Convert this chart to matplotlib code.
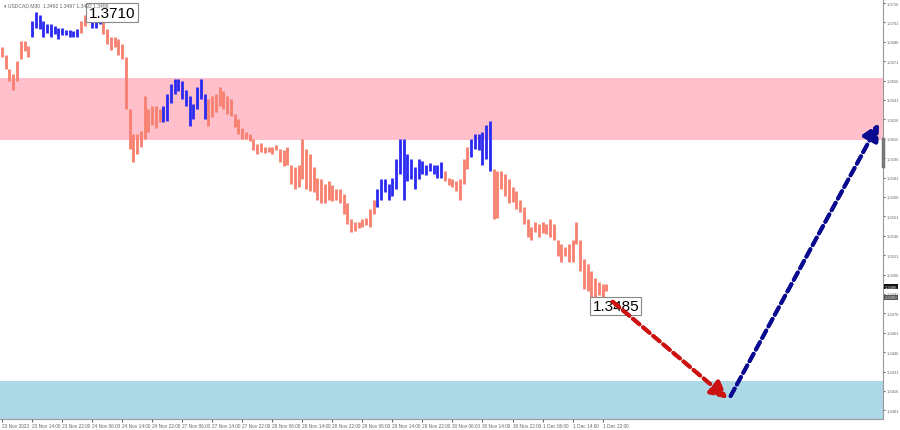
import numpy as np
import matplotlib
matplotlib.use("Agg")
import matplotlib.pyplot as plt
import matplotlib.patheffects as pe

plt.rcParams['font.family'] = ['Liberation Sans', 'DejaVu Sans']

# bar highs / lows (USDCAD)
highs = [1.3682, 1.3676, 1.3665, 1.3661, 1.3671, 1.3687, 1.3687, 1.3683, 1.3702, 1.3709,
         1.3707, 1.3702, 1.3700, 1.3700, 1.3698, 1.3697, 1.3697, 1.3695, 1.3695, 1.3694,
         1.3696, 1.3702, 1.3707, 1.3710, 1.3707, 1.3705, 1.3707, 1.3704, 1.3696, 1.3690,
         1.3690, 1.3688, 1.3684, 1.3674, 1.3634, 1.3615, 1.3615, 1.3617, 1.3644, 1.3634,
         1.3636, 1.3636, 1.3634, 1.3636, 1.3646, 1.3653, 1.3657, 1.3657, 1.3656, 1.3649,
         1.3644, 1.3638, 1.3651, 1.3657, 1.3646, 1.3642, 1.3644, 1.3646, 1.3651, 1.3648,
         1.3644, 1.3642, 1.3630, 1.3626, 1.3619, 1.3616, 1.3615, 1.3611, 1.3607, 1.3608,
         1.3605, 1.3605, 1.3605, 1.3606, 1.3603, 1.3602, 1.3605, 1.3591, 1.3589, 1.3591,
         1.3611, 1.3603, 1.3599, 1.3589, 1.3581, 1.3580, 1.3576, 1.3578, 1.3575, 1.3572,
         1.3572, 1.3568, 1.3561, 1.3549, 1.3547, 1.3547, 1.3549, 1.3550, 1.3557, 1.3564,
         1.3572, 1.3580, 1.3580, 1.3576, 1.3581, 1.3595, 1.3611, 1.3611, 1.3599, 1.3595,
         1.3589, 1.3595, 1.3594, 1.3591, 1.3592, 1.3591, 1.3591, 1.3593, 1.3586, 1.3581,
         1.3580, 1.3578, 1.3580, 1.3595, 1.3605, 1.3611, 1.3615, 1.3615, 1.3616, 1.3622,
         1.3625, 1.3588, 1.3586, 1.3586, 1.3584, 1.3580, 1.3574, 1.3571, 1.3564, 1.3558,
         1.3549, 1.3543, 1.3547, 1.3545, 1.3547, 1.3545, 1.3549, 1.3545, 1.3533, 1.3530,
         1.3527, 1.3530, 1.3533, 1.3547, 1.3533, 1.3518, 1.3514, 1.3509, 1.3503, 1.3500,
         1.3499, 1.3499]
lows = [1.3674, 1.3665, 1.3656, 1.3649, 1.3656, 1.3673, 1.3679, 1.3674, 1.3690, 1.3697,
        1.3696, 1.3690, 1.3693, 1.3690, 1.3692, 1.3688, 1.3691, 1.3691, 1.3690, 1.3690,
        1.3690, 1.3693, 1.3698, 1.3702, 1.3697, 1.3697, 1.3700, 1.3692, 1.3684, 1.3680,
        1.3682, 1.3676, 1.3673, 1.3634, 1.3603, 1.3593, 1.3599, 1.3605, 1.3611, 1.3616,
        1.3622, 1.3619, 1.3624, 1.3624, 1.3625, 1.3639, 1.3646, 1.3648, 1.3642, 1.3636,
        1.3621, 1.3626, 1.3634, 1.3642, 1.3626, 1.3621, 1.3628, 1.3632, 1.3636, 1.3634,
        1.3630, 1.3629, 1.3620, 1.3615, 1.3611, 1.3611, 1.3609, 1.3602, 1.3599, 1.3601,
        1.3600, 1.3601, 1.3599, 1.3602, 1.3593, 1.3590, 1.3591, 1.3576, 1.3572, 1.3574,
        1.3580, 1.3572, 1.3571, 1.3570, 1.3564, 1.3561, 1.3561, 1.3564, 1.3563, 1.3564,
        1.3561, 1.3553, 1.3545, 1.3539, 1.3540, 1.3542, 1.3543, 1.3544, 1.3543, 1.3553,
        1.3558, 1.3564, 1.3570, 1.3564, 1.3567, 1.3572, 1.3584, 1.3564, 1.3578, 1.3580,
        1.3572, 1.3580, 1.3584, 1.3583, 1.3586, 1.3584, 1.3581, 1.3581, 1.3578, 1.3575,
        1.3574, 1.3571, 1.3564, 1.3576, 1.3588, 1.3597, 1.3603, 1.3602, 1.3591, 1.3595,
        1.3586, 1.3549, 1.3550, 1.3572, 1.3567, 1.3561, 1.3562, 1.3557, 1.3554, 1.3545,
        1.3535, 1.3533, 1.3539, 1.3535, 1.3538, 1.3537, 1.3535, 1.3533, 1.3520, 1.3516,
        1.3520, 1.3516, 1.3516, 1.3530, 1.3509, 1.3495, 1.3493, 1.3485, 1.3489, 1.3490,
        1.3489, 1.3493]

# zigzag legs drawn in blue (bar index ranges)
blue_legs = [(8, 20), (23, 26), (43, 54), (100, 117), (125, 130)]

time_labels = ['23 Nov 2023', '23 Nov 14:00', '23 Nov 22:00', '24 Nov 06:00', '24 Nov 14:00',
               '24 Nov 22:00', '27 Nov 06:00', '27 Nov 14:00', '27 Nov 22:00', '28 Nov 06:00',
               '28 Nov 14:00', '28 Nov 22:00', '29 Nov 06:00', '29 Nov 14:00', '29 Nov 22:00',
               '30 Nov 06:00', '30 Nov 14:00', '30 Nov 22:00', '1 Dec 06:00', '1 Dec 14:00',
               '1 Dec 22:00']

resist_zone = (1.3610, 1.3658)
support_zone = (1.3394, 1.3424)
price_ticks = np.round(np.arange(1.3401, 1.3717, 0.0015), 4)

last_high, last_low = 1.3710, 1.3485
cur_price, bid_price = 1.3496, 1.3490
# forecast path: from last low down to target, then up
fc_x = [162.7, 193.3, 194.1, 233.6]
fc_y = [1.3485, 1.3410, 1.3412, 1.3623]

salmon = '#f8806e'
blue = '#2a2af2'

n = len(highs)
idx = np.arange(n)
colors = [salmon] * n
for a, b in blue_legs:
    for i in range(a, b + 1):
        colors[i] = blue

fig = plt.figure(figsize=(9, 4.31), dpi=100)
ax = fig.add_axes([0, 11 / 431, 883 / 900, 420 / 431])

ax.axhspan(*resist_zone, color='#ffc0cb', lw=0, zorder=0)
ax.axhspan(*support_zone, color='#add8e6', lw=0, zorder=0)

ax.vlines(idx, lows, highs, colors=colors, lw=2.0, zorder=2)

ax.set_xlim(-0.53, 234.7)
ax.set_ylim(1.33943, 1.37191)

ax.yaxis.tick_right()
ax.set_yticks(price_ticks)
ax.set_yticklabels(['%.4f' % p for p in price_ticks])
ax.set_xticks(np.arange(len(time_labels)) * 8)
ax.set_xticklabels(time_labels, ha='left')
ax.tick_params(axis='y', length=1.5, pad=1.5, labelsize=3.0, colors='#666666')
ax.tick_params(axis='x', length=2, pad=1, labelsize=3.4, colors='#666666')
for s in ['top', 'left']:
    ax.spines[s].set_visible(False)
for s in ['right', 'bottom']:
    ax.spines[s].set_color('#999999')
    ax.spines[s].set_linewidth(0.8)
ax.plot([1, 1], [1.3590, 1.3611], transform=ax.get_yaxis_transform(),
        color='#777777', lw=2.5, clip_on=False, zorder=5)

# price boxes on the right scale
ax.text(1.002, cur_price + 0.00005, '%.4f' % cur_price, transform=ax.get_yaxis_transform(),
        fontsize=3.0, color='white', va='center', ha='left',
        bbox=dict(boxstyle='square,pad=0.15', fc='#111111', ec='none'))
ax.text(1.002, bid_price - 0.00015, '%.4f' % bid_price, transform=ax.get_yaxis_transform(),
        fontsize=3.0, color='#dddddd', va='center', ha='left',
        bbox=dict(boxstyle='square,pad=0.1', fc='#555555', ec='none'))

# labels of the extremes
box = dict(boxstyle='square,pad=0.15', fc='white', ec='#888888', lw=0.8)
ax.text(29.3, 1.37085, '%.4f' % last_high, fontsize=11, ha='center', va='center', bbox=box, zorder=6)
ax.text(163.5, 1.34818, '%.4f' % last_low, fontsize=11, ha='center', va='center', bbox=box, zorder=6)

# forecast arrows
shadow = [pe.withSimplePatchShadow(offset=(1.2, -1.2), shadow_rgbFace='#888888', alpha=0.6), pe.Normal()]
for (x0, x1, y0, y1, c) in [(fc_x[0], fc_x[1], fc_y[0], fc_y[1], '#cc1111'),
                            (fc_x[2], fc_x[3], fc_y[2], fc_y[3], '#0a0a90')]:
    a = ax.annotate('', xy=(x1, y1), xytext=(x0, y0),
                    arrowprops=dict(arrowstyle='-|>,head_length=1.0,head_width=0.5', color=c,
                                    lw=2.8, linestyle=(0, (2.2, 1.2)), shrinkA=0, shrinkB=0),
                    zorder=7)
    a.arrow_patch.set_path_effects(shadow)

# chart header
ax.text(0.004, 0.992, '\u25be USDCAD,M30  1.3492 1.3497 1.3492 1.3496', transform=ax.transAxes,
        fontsize=3.6, color='#666666', va='top', ha='left', zorder=8)

fig.savefig('out.png', dpi=100)
